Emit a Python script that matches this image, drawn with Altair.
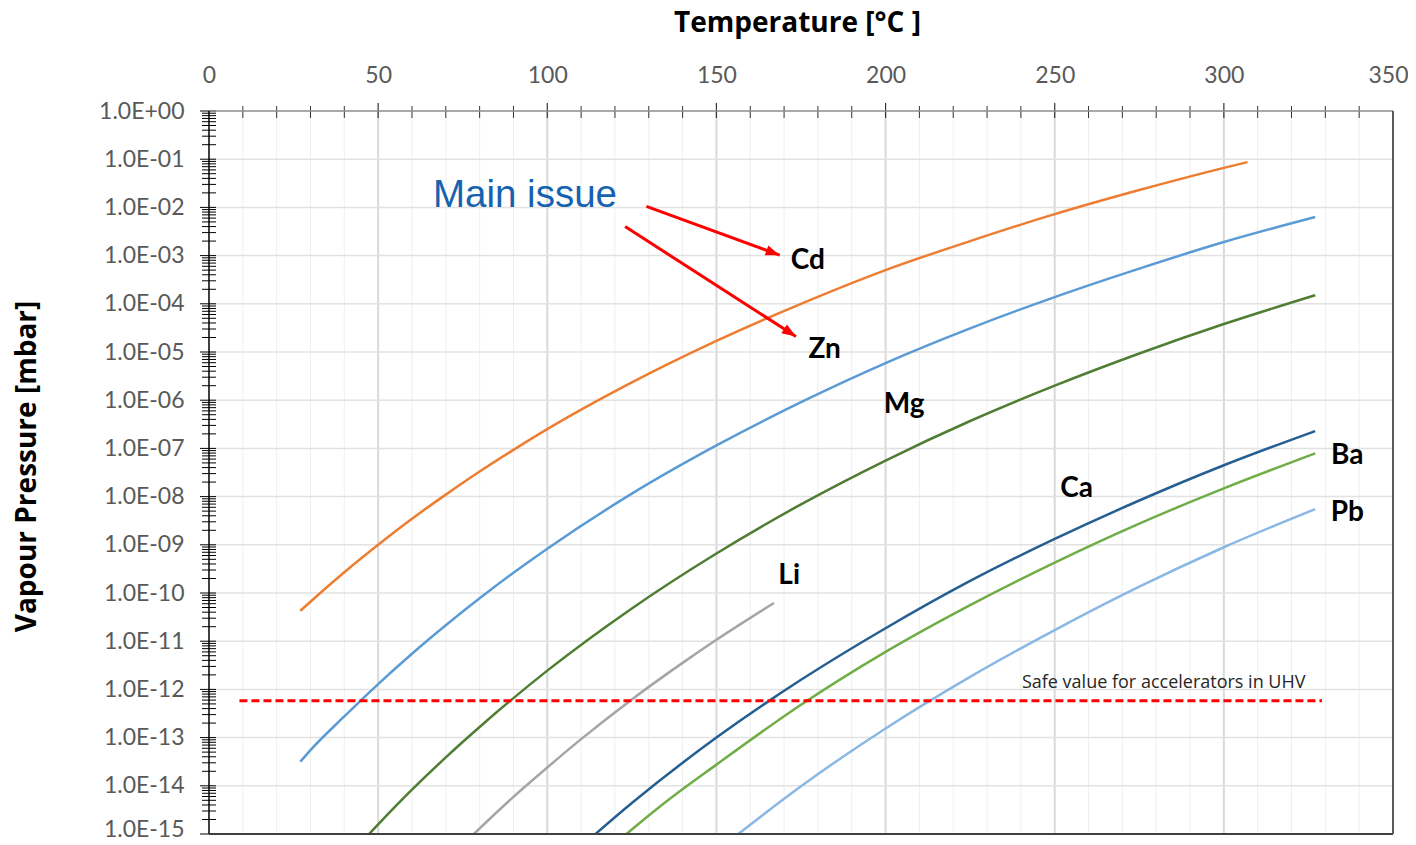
import math
import altair as alt
import pandas as pd

# ---------------- data ----------------
W, H = 1184, 723
T_DOMAIN = [0, 350]
P_DOMAIN = [1e-15, 1.0]

x_tick_values = [0, 50, 100, 150, 200, 250, 300, 350]
y_tick_values = [1e-15, 1e-14, 1e-13, 1e-12, 1e-11, 1e-10, 1e-9, 1e-8,
                 1e-7, 1e-6, 1e-5, 1e-4, 1e-3, 1e-2, 1e-1, 1e0]
y_tick_labels = ["1.0E-15", "1.0E-14", "1.0E-13", "1.0E-12", "1.0E-11", "1.0E-10",
                 "1.0E-09", "1.0E-08", "1.0E-07", "1.0E-06", "1.0E-05", "1.0E-04",
                 "1.0E-03", "1.0E-02", "1.0E-01", "1.0E+00"]

cd_T = [27, 30, 40, 50, 60, 70, 80, 90, 100, 125, 150, 175, 200, 225, 250, 275, 300, 307]
cd_P = [4.27e-11, 6.6e-11, 2.69e-10, 1.0e-9, 3.47e-9, 1.10e-8, 3.31e-8, 9.33e-8, 2.51e-7,
        2.34e-6, 1.70e-5, 1.0e-4, 5.01e-4, 2.0e-3, 7.24e-3, 2.29e-2, 6.61e-2, 8.71e-2]

zn_T = [27, 30, 40, 50, 60, 70, 80, 90, 100, 125, 150, 175, 200, 225, 250, 275, 300, 327]
zn_P = [3.16e-14, 5.5e-14, 2.75e-13, 1.29e-12, 5.5e-12, 2.14e-11, 7.76e-11, 2.63e-10, 8.3e-10,
        1.15e-8, 1.15e-7, 9.1e-7, 5.9e-6, 3.09e-5, 1.38e-4, 5.37e-4, 1.91e-3, 6.31e-3]

mg_T = [40, 50, 60, 70, 80, 90, 100, 125, 150, 175, 200, 225, 250, 275, 300, 327]
mg_P = [2.75e-16, 1.58e-15, 8.3e-15, 3.89e-14, 1.66e-13, 6.6e-13, 2.45e-12, 4.79e-11, 6.6e-10,
        6.9e-9, 5.6e-8, 3.7e-7, 2.0e-6, 9.3e-6, 3.8e-5, 1.51e-4]

li_T = [75, 90, 100, 110, 125, 140, 150, 167]
li_P = [6.0e-16, 5.9e-15, 2.4e-14, 9.3e-14, 6.2e-13, 3.55e-12, 1.07e-11, 6.2e-11]

ca_T = [110, 125, 150, 175, 200, 225, 250, 275, 300, 327]
ca_P = [5.5e-16, 4.4e-15, 1.0e-13, 1.58e-12, 1.86e-11, 1.78e-10, 1.32e-9, 8.3e-9, 4.47e-8, 2.29e-7]

ba_T = [120, 135, 150, 175, 200, 225, 250, 275, 300, 327]
ba_P = [6.3e-16, 4.6e-15, 2.75e-14, 4.8e-13, 6.0e-12, 5.6e-11, 4.27e-10, 2.75e-9, 1.48e-8, 7.9e-8]

pb_T = [150, 175, 200, 225, 250, 275, 300, 327]
pb_P = [4.4e-16, 9.8e-15, 1.55e-13, 1.82e-12, 1.7e-11, 1.35e-10, 8.9e-10, 5.5e-9]

elements = ["Cd", "Zn", "Mg", "Li", "Ca", "Ba", "Pb"]
element_colors = ["#ED7D31", "#5B9BD5", "#4F7D33", "#A5A5A5", "#255E91", "#70AD47", "#8AB8E4"]

label_T = [177, 182, 205.5, 171.5, 256.5, 336.5, 336.5]
label_P = [7.8e-4, 1.1e-5, 7.9e-7, 2.2e-10, 1.45e-8, 6.9e-8, 4.6e-9]

safe_value = 5.8e-13
safe_T = [9, 329]
safe_text = "Safe value for accelerators in UHV"
safe_text_T = 240.3
safe_text_P = 1.35e-12

main_text = "Main issue"
main_text_T = 93.4
main_text_P = 1.8e-2

arrow_start_T = [129.3, 123.0]
arrow_start_P = [1.05e-2, 4.0e-3]
arrow_tip_T = [168.7, 173.5]
arrow_tip_P = [1.02e-3, 2.1e-5]

minor_x_grid = [t for t in range(10, 350, 10) if t % 50 != 0]
major_x_grid = [50, 100, 150, 200, 250, 300]
y_grid = y_tick_values[1:-1]
y_minor_ticks = [k * 10.0 ** e for e in range(-15, 0) for k in range(2, 10)]
x_minor_ticks = minor_x_grid
x_major_ticks = major_x_grid

# ---------------- tables ----------------
series = {"Cd": (cd_T, cd_P), "Zn": (zn_T, zn_P), "Mg": (mg_T, mg_P), "Li": (li_T, li_P),
          "Ca": (ca_T, ca_P), "Ba": (ba_T, ba_P), "Pb": (pb_T, pb_P)}
rows = []
for name in elements:
    ts, ps = series[name]
    for t, p in zip(ts, ps):
        rows.append({"el": name, "T": t, "P": p})
curves = pd.DataFrame(rows)

labels_df = pd.DataFrame({"el": elements, "T": label_T, "P": label_P})
safe_df = pd.DataFrame({"T": safe_T, "P": [safe_value] * len(safe_T)})


def to_px(t, p):
    x = (t - T_DOMAIN[0]) / (T_DOMAIN[1] - T_DOMAIN[0]) * W
    y = (math.log10(P_DOMAIN[1]) - math.log10(p)) / (math.log10(P_DOMAIN[1]) - math.log10(P_DOMAIN[0])) * H
    return x, y


arrow_rows, head_rows = [], []
for i in range(len(arrow_start_T)):
    arrow_rows.append({"id": i, "T": arrow_start_T[i], "P": arrow_start_P[i]})
    arrow_rows.append({"id": i, "T": arrow_tip_T[i], "P": arrow_tip_P[i]})
    x0, y0 = to_px(arrow_start_T[i], arrow_start_P[i])
    x1, y1 = to_px(arrow_tip_T[i], arrow_tip_P[i])
    head_rows.append({"T": arrow_tip_T[i], "P": arrow_tip_P[i],
                      "ang": math.degrees(math.atan2(y1 - y0, x1 - x0)) % 360})
arrows_df = pd.DataFrame(arrow_rows)
heads_df = pd.DataFrame(head_rows)

# ---------------- scales / axes ----------------
xs = alt.Scale(domain=T_DOMAIN, nice=False, zero=False)
ys = alt.Scale(type="log", domain=P_DOMAIN, nice=False)

label_array = "[" + ",".join("'%s'" % s for s in y_tick_labels) + "]"
x_axis = alt.Axis(orient="top", values=x_tick_values, domain=False, ticks=False, grid=False,
                  labelFont="Lato", labelFontSize=23, labelColor="#595959", labelPadding=24,
                  labelFlush=False, labelOverlap=False,
                  labelOffset={"condition": {"test": "datum.value >= 350", "value": -5}, "value": 0},
                  title="Temperature [°C ]", titleFont="Open Sans", titleFontSize=28,
                  titleFontWeight="bold", titleColor="#000000", titleX=588, titleY=-88,
                  titleBaseline="middle")
y_axis = alt.Axis(orient="left", values=y_tick_values, domain=False, ticks=False, grid=False,
                  labelExpr=label_array + "[round(log(datum.value)/LN10)+15]",
                  labelFont="Lato", labelFontSize=23, labelColor="#595959", labelPadding=25,
                  labelOverlap=False, labelFlush=False,
                  labelOffset={"condition": {"test": "datum.value < 2e-15", "value": -5}, "value": 0},
                  title="Vapour Pressure [mbar]", titleFont="Open Sans", titleFontSize=28,
                  titleFontWeight="bold", titleColor="#000000", titleX=-182, titleY=355,
                  titleBaseline="middle")


def X(f="T"):
    return alt.X(f + ":Q", scale=xs, axis=x_axis)


def Y(f="P"):
    return alt.Y(f + ":Q", scale=ys, axis=y_axis)


# ---------------- layers ----------------
grid_minor = alt.Chart(pd.DataFrame({"T": minor_x_grid})).mark_rule(
    color="#efefef", strokeWidth=1).encode(x=X(), y=alt.value(0), y2=alt.value(H))
grid_major = alt.Chart(pd.DataFrame({"T": major_x_grid})).mark_rule(
    color="#d9d9d9", strokeWidth=2).encode(x=X(), y=alt.value(0), y2=alt.value(H))
grid_h = alt.Chart(pd.DataFrame({"P": y_grid})).mark_rule(
    color="#e2e2e2", strokeWidth=1.5).encode(y=Y(), x=alt.value(0), x2=alt.value(W))

lines = alt.Chart(curves).mark_line(strokeWidth=2.5, interpolate="monotone", clip=True).encode(
    x=X(), y=Y(),
    color=alt.Color("el:N", scale=alt.Scale(domain=elements, range=element_colors), legend=None))

safe_line = alt.Chart(safe_df).mark_line(color="#FF0000", strokeWidth=3, strokeDash=[8, 4]).encode(
    x=X(), y=Y())

safe_label = alt.Chart(pd.DataFrame({"T": [safe_text_T], "P": [safe_text_P], "txt": [safe_text]})).mark_text(
    font="Open Sans", fontSize=18, color="#262626", align="left", baseline="middle").encode(
    x=X(), y=Y(), text="txt:N")

el_labels = alt.Chart(labels_df).mark_text(
    font="Lato", fontSize=28, fontWeight="bold", color="#000000", align="center", baseline="middle").encode(
    x=X(), y=Y(), text="el:N")

main_label = alt.Chart(pd.DataFrame({"T": [main_text_T], "P": [main_text_P], "txt": [main_text]})).mark_text(
    font="Liberation Sans", fontSize=38.5, color="#1662B0", align="center", baseline="middle").encode(
    x=X(), y=Y(), text="txt:N")

arrow_lines = alt.Chart(arrows_df).mark_line(color="#FF0000", strokeWidth=3).encode(
    x=X(), y=Y(), detail="id:N")
arrow_heads = alt.Chart(heads_df).mark_point(
    shape="M0,0 L-1.5,-0.55 L-1.5,0.55 Z", filled=True, color="#FF0000", opacity=1, size=350).encode(
    x=X(), y=Y(), angle=alt.Angle("ang:Q", scale=None))

y_ticks_major = alt.Chart(pd.DataFrame({"P": y_tick_values})).mark_rule(
    color="#000000", strokeWidth=1).encode(y=Y(), x=alt.value(-9), x2=alt.value(7))
y_ticks_minor = alt.Chart(pd.DataFrame({"P": y_minor_ticks})).mark_rule(
    color="#000000", strokeWidth=1).encode(y=Y(), x=alt.value(-7), x2=alt.value(7))
x_ticks_minor = alt.Chart(pd.DataFrame({"T": x_minor_ticks})).mark_rule(
    color="#333333", strokeWidth=1).encode(x=X(), y=alt.value(-5), y2=alt.value(7))
x_ticks_major = alt.Chart(pd.DataFrame({"T": x_major_ticks})).mark_rule(
    color="#333333", strokeWidth=1.2).encode(x=X(), y=alt.value(-8), y2=alt.value(7))

one = pd.DataFrame({"a": [0]})
border_top = alt.Chart(one).mark_rule(color="#8c8c8c", strokeWidth=1.5).encode(
    x=alt.value(0), x2=alt.value(W), y=alt.value(0))
border_left = alt.Chart(one).mark_rule(color="#000000", strokeWidth=1.5).encode(
    x=alt.value(0), y=alt.value(0), y2=alt.value(H))
border_bottom = alt.Chart(one).mark_rule(color="#404040", strokeWidth=2).encode(
    x=alt.value(0), x2=alt.value(W), y=alt.value(H))
border_right = alt.Chart(one).mark_rule(color="#595959", strokeWidth=2).encode(
    x=alt.value(W), y=alt.value(0), y2=alt.value(H))

chart = alt.layer(
    grid_minor, grid_major, grid_h, lines, safe_line, safe_label, el_labels, main_label,
    arrow_lines, arrow_heads, y_ticks_major, y_ticks_minor, x_ticks_minor, x_ticks_major,
    border_top, border_left, border_bottom, border_right,
).properties(
    width=W, height=H,
    autosize=alt.AutoSizeParams(type="none"),
    padding={"left": 201, "top": 103, "right": 15, "bottom": 3},
).configure_view(stroke=None)

chart.save("out.html", embed_options={"renderer": "svg", "actions": False})
